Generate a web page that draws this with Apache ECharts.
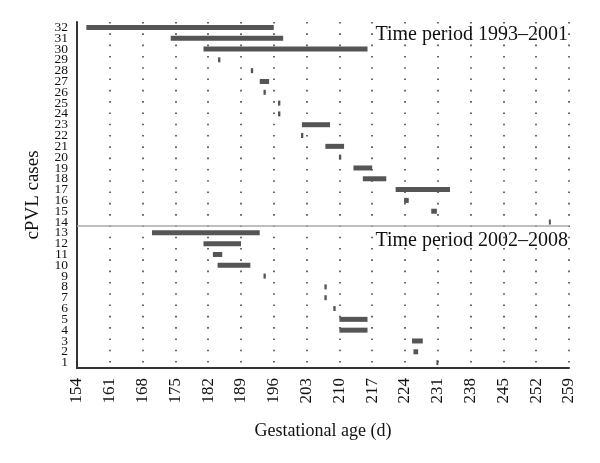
<!DOCTYPE html>
<html>
<head>
<meta charset="utf-8">
<script src="https://cdn.jsdelivr.net/npm/echarts@6/dist/echarts.min.js"></script>
<style>html,body{margin:0;padding:0;background:#fff}#c{width:600px;height:463px}</style>
</head>
<body>
<div id="c"></div>
<script>
// Case numbers (y categories)
var caseLabels = [];
for (var i = 1; i <= 32; i++) caseLabels.push(String(i));

// Gestational age tick labels
var xTicks = [154,161,168,175,182,189,196,203,210,217,224,231,238,245,252,259];

// cPVL cases: case number, start day, end day
var cases  = [32,  31,  30,  29,    28,    27,  26,    25,    24,    23,  22,    21,  20,    19,  18,  17,  16,    15,    14,
              13,  12,  11,  10,  9,     8,     7,     6,     5,   4,   3,     2,     1];
var starts = [156, 174, 181, 184.1, 191.1, 193, 193.8, 196.9, 196.9, 202, 201.8, 207, 209.9, 213, 215, 222, 223.8, 229.6, 254.7,
              170, 181, 183, 184, 193.8, 206.8, 206.8, 208.7, 210, 210, 225.5, 225.8, 230.7];
var ends   = [196, 198, 216, 184.6, 191.6, 195, 194.3, 197.4, 197.4, 208, 202.3, 211, 210.4, 217, 220, 233.6, 224.8, 230.8, 255.1,
              193, 189, 185, 191, 194.3, 207.3, 207.3, 209.2, 216, 216, 227.8, 226.8, 231.1];

// Separator between the two time periods (between cases 13 and 14)
var periodSplit = 13.7;
var periodTitles = ['Time period 1993\u20132001', 'Time period 2002\u20132008'];

var barData = cases.map(function (c, i) { return [starts[i], ends[i], c]; });

var FONT = 'Liberation Serif';
var TXT = '#111';
var chart = echarts.init(document.getElementById('c'), null, {renderer: 'canvas'});
chart.setOption({
  animation: false,
  backgroundColor: '#fff',
  title: [
    {text: periodTitles[0], right: 32, top: 25, padding: 0,
     textStyle: {fontFamily: FONT, fontSize: 20, fontWeight: 'normal', color: TXT}},
    {text: periodTitles[1], right: 32, top: 231, padding: 0,
     textStyle: {fontFamily: FONT, fontSize: 20, fontWeight: 'normal', color: TXT}}
  ],
  grid: {left: 77, right: 31, top: 22, bottom: 95, containLabel: false},
  xAxis: {
    type: 'value', min: 154, max: 259, interval: 7,
    name: 'Gestational age (d)', nameLocation: 'middle', nameGap: 54,
    nameTextStyle: {fontFamily: FONT, fontSize: 18, color: TXT},
    axisLine: {show: true, lineStyle: {color: '#333', width: 2}},
    axisTick: {show: false},
    axisLabel: {rotate: 90, fontFamily: FONT, fontSize: 17, color: TXT, margin: 10,
      formatter: function (v) { return xTicks.indexOf(v) >= 0 ? String(v) : ''; }},
    splitLine: {show: true, lineStyle: {color: '#444', width: 1.6, type: [1.6, 9.7]}}
  },
  yAxis: [
    {
      type: 'category', data: caseLabels,
      name: 'cPVL cases', nameLocation: 'middle', nameGap: 34, nameRotate: 90,
      nameTextStyle: {fontFamily: FONT, fontSize: 19, color: TXT},
      axisLine: {show: true, lineStyle: {color: '#333', width: 2}},
      axisTick: {show: false},
      axisLabel: {fontFamily: FONT, fontSize: 13.5, color: TXT, margin: 9, interval: 0, lineHeight: 11},
      splitLine: {show: false}
    },
    {
      type: 'value', min: 0.5, max: 32.5, show: false, splitLine: {show: false}
    }
  ],
  series: [{
    type: 'custom',
    xAxisIndex: 0, yAxisIndex: 1,
    data: barData,
    encode: {x: [0, 1], y: 2},
    renderItem: function (params, api) {
      var s = api.coord([api.value(0), api.value(2)]);
      var e = api.coord([api.value(1), api.value(2)]);
      var h = 5;
      var w = Math.max(e[0] - s[0], 2);
      return {type: 'rect', shape: {x: s[0], y: s[1] - h / 2, width: w, height: h},
              style: {fill: '#555'}};
    },
    markLine: {
      silent: true, symbol: 'none', animation: false,
      label: {show: false},
      lineStyle: {color: '#aaa', width: 1.5, type: 'solid'},
      data: [{yAxis: periodSplit}]
    }
  }]
});
</script>
</body>
</html>
